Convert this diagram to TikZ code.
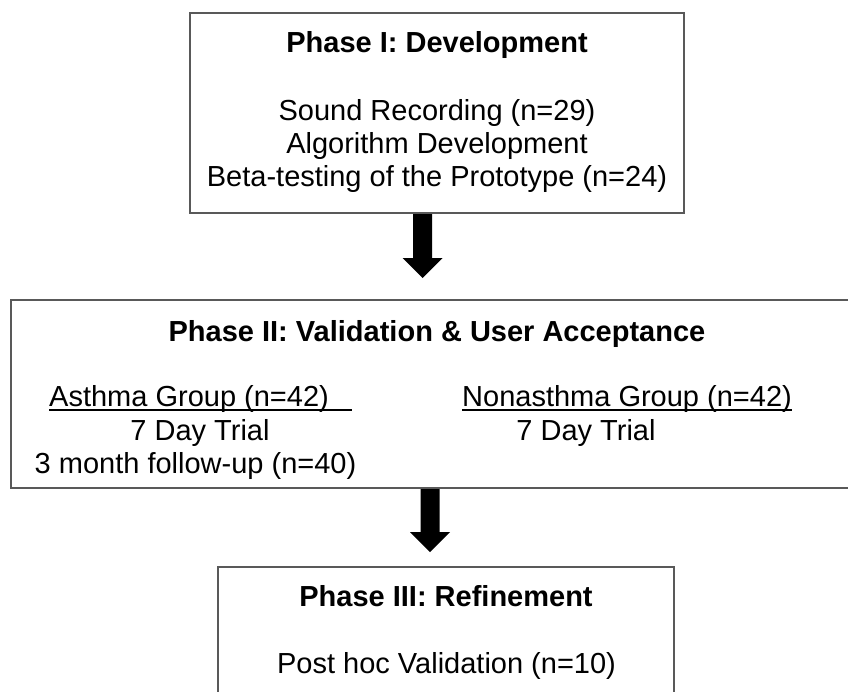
\documentclass[tikz,border=0pt]{standalone}
\usepackage{fontspec}
\setmainfont{Liberation Sans}
\usetikzlibrary{calc}
\begin{document}
\begin{tikzpicture}[x=1pt,y=-1pt,
  panel/.style={draw=black!65, line width=2pt, inner sep=0pt, fill=none},
  txt/.style={font=\fontsize{29}{33}\selectfont, anchor=base, inner sep=0pt, text=black},
  head/.style={txt, font=\fontsize{29}{33}\selectfont\bfseries},
  uline/.style={line width=1.8pt, black}]
  \newcommand\fatarrow[2]{%
    \fill[black] ($(#1)+(-9.5,0)$) -- ($(#1)+(9.5,0)$) -- ($(#2)+(9.5,-20)$)
      -- ($(#2)+(20,-20)$) -- (#2) -- ($(#2)+(-20,-20)$)
      -- ($(#2)+(-9.5,-20)$) -- cycle;}

  \fill[white] (0,0) rectangle (848,691);
  \useasboundingbox (0,0) rectangle (848,691);

  % the three phase panels
  \node[panel, minimum width=494pt, minimum height=200pt] (p1) at (437,113) {};
  \node[panel, minimum width=859pt, minimum height=188pt] (p2) at (440.5,394) {};
  \node[panel, minimum width=456pt, minimum height=153pt] (p3) at (446,643.5) {};

  % Phase I
  \node[head] (h1) at (437,52) {Phase I: Development};
  \node[txt] (l11) at (437,120) {Sound Recording (n=29)};
  \node[txt] (l12) at (437,153) {Algorithm Development};
  \node[txt] (l13) at (437,186) {Beta-testing of the Prototype (n=24)};

  % Phase II
  \node[head] (h2) at (437,341) {Phase II: Validation \& User Acceptance};
  \node[txt, anchor=base west] (ag) at (49,406) {Asthma Group (n=42)};
  \node[txt] (at) at (200,440) {7 Day Trial};
  \node[txt] (af) at (195.5,473) {3 month follow-up (n=40)};
  \node[txt, anchor=base west] (ng) at (462,406) {Nonasthma Group (n=42)};
  \node[txt] (nt) at (586,440) {7 Day Trial};
  \draw[uline] ($(ag.base west)+(0,4)$) -- ($(ag.base west)+(303,4)$);
  \draw[uline] ($(ng.base west)+(0,4)$) -- ($(ng.base east)+(0,4)$);

  % Phase III
  \node[head] (h3) at (446,606) {Phase III: Refinement};
  \node[txt] (l31) at (446.5,673) {Post hoc Validation (n=10)};

  % connectors between phases
  \coordinate (a1s) at ($(p1.south)+(-14.5,0)$);
  \coordinate (a1e) at ($(p2.north)+(-18,-21)$);
  \coordinate (a2s) at ($(p2.south)+(-10.5,0)$);
  \coordinate (a2e) at ($(p3.north)+(-16,-14)$);
  \fatarrow{a1s}{a1e}
  \fatarrow{a2s}{a2e}
\end{tikzpicture}
\end{document}
